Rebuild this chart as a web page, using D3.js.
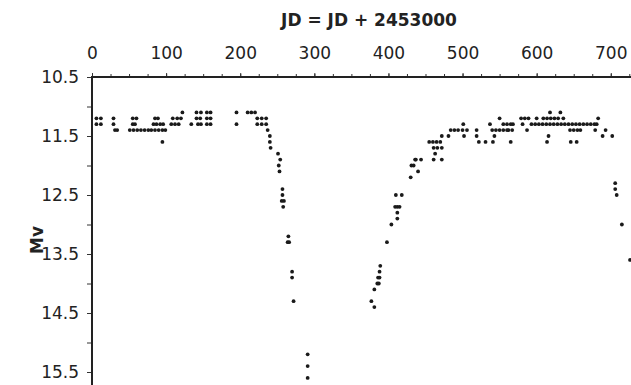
<!DOCTYPE html>
<html>
<head>
<meta charset="utf-8">
<script src="https://cdn.jsdelivr.net/npm/d3@7"></script>
<style>
  html, body { margin: 0; padding: 0; background: #fff; }
  svg { display: block; }
  text { font-family: "DejaVu Sans", Verdana, sans-serif; fill: #222; }
</style>
</head>
<body>
<svg id="chart" width="631" height="385"></svg>
<script>
// Light curve: Julian date offset (JD - 2453000) and visual magnitude
const jd = [
  6, 12, 6, 12, 29, 29, 31, 34,
  55, 60, 55, 58, 51, 56, 61, 66, 71, 76,
  85, 89, 83, 87, 92, 96, 80, 85, 90, 95, 99, 95,
  109, 115, 120, 107, 112, 117, 122,
  134, 141, 146, 141, 147, 143, 147,
  155, 160, 155, 160, 155, 160,
  195, 195, 210, 215, 220, 223, 229, 223, 229, 235, 235,
  237, 240, 240, 241, 251, 254, 252, 253,
  257, 257, 256, 259, 258, 265, 264, 266, 270, 270, 272,
  291, 291, 291,
  377, 381, 381, 385, 387, 386, 388, 388, 389, 398, 404,
  412, 412, 409, 412, 415, 410, 418, 430, 431, 434, 437, 440,
  436, 444, 461, 472, 463, 461, 466, 472, 455, 460, 465, 470,
  472, 481, 484, 489, 494, 500, 506, 501, 502,
  519, 519, 522, 531, 537, 540, 545, 550, 555, 560, 541, 543, 550,
  555, 560, 565, 568, 562, 567, 565,
  579, 584, 589, 581, 587,
  593, 598, 603, 608, 613, 618, 623, 628, 633, 638, 643, 648, 653, 658, 663, 668, 673, 678, 681,
  600, 609, 614, 619, 624, 629, 636, 618, 632, 616, 614,
  645, 650, 655, 659, 646, 654, 679, 693, 683, 689, 702,
  706, 706, 708, 715, 726
];
const mv = [
  11.2, 11.2, 11.3, 11.3, 11.2, 11.3, 11.4, 11.4,
  11.2, 11.2, 11.3, 11.3, 11.4, 11.4, 11.4, 11.4, 11.4, 11.4,
  11.2, 11.2, 11.3, 11.3, 11.3, 11.3, 11.4, 11.4, 11.4, 11.4, 11.4, 11.6,
  11.2, 11.2, 11.2, 11.3, 11.3, 11.3, 11.1,
  11.3, 11.2, 11.2, 11.1, 11.1, 11.3, 11.3,
  11.1, 11.1, 11.2, 11.2, 11.3, 11.3,
  11.1, 11.3, 11.1, 11.1, 11.1, 11.2, 11.2, 11.3, 11.3, 11.2, 11.3,
  11.4, 11.5, 11.6, 11.7, 11.8, 11.9, 12.0, 12.1,
  12.4, 12.5, 12.6, 12.6, 12.7, 13.2, 13.3, 13.3, 13.8, 13.9, 14.3,
  15.2, 15.4, 15.6,
  14.3, 14.4, 14.1, 14.0, 14.0, 13.9, 13.9, 13.8, 13.7, 13.3, 13.0,
  12.9, 12.8, 12.7, 12.7, 12.7, 12.5, 12.5, 12.2, 12.0, 12.0, 11.9, 12.1,
  11.9, 11.9, 11.9, 11.9, 11.8, 11.7, 11.7, 11.7, 11.6, 11.6, 11.6, 11.6,
  11.5, 11.5, 11.4, 11.4, 11.4, 11.4, 11.4, 11.3, 11.5,
  11.4, 11.5, 11.6, 11.6, 11.3, 11.4, 11.4, 11.4, 11.4, 11.4, 11.6, 11.5, 11.2,
  11.3, 11.3, 11.3, 11.3, 11.4, 11.4, 11.6,
  11.2, 11.2, 11.2, 11.3, 11.4,
  11.3, 11.3, 11.3, 11.3, 11.3, 11.3, 11.3, 11.3, 11.3, 11.3, 11.3, 11.3, 11.3, 11.3, 11.3, 11.3, 11.3, 11.3, 11.3,
  11.2, 11.2, 11.2, 11.2, 11.2, 11.2, 11.2, 11.1, 11.1, 11.5, 11.6,
  11.4, 11.4, 11.4, 11.4, 11.6, 11.6, 11.4, 11.4, 11.2, 11.5, 11.5,
  12.3, 12.4, 12.5, 13.0, 13.6
];
const xMajorTicks = [0, 100, 200, 300, 400, 500, 600, 700];
const xMinorTicks = d3.range(0, 730, 25);
const yTicks = [10.5, 11, 11.5, 12, 12.5, 13, 13.5, 14, 14.5, 15, 15.5];
const yLabelTicks = [10.5, 11.5, 12.5, 13.5, 14.5, 15.5];

const svg = d3.select("#chart");
const x = d3.scaleLinear().domain([0, 730]).range([92, 633]);
const y = d3.scaleLinear().domain([10.5, 15.75]).range([77, 386.75]);

// Minor ticks along the top axis
svg.append("g")
  .attr("transform", `translate(0,${y(10.5)})`)
  .call(d3.axisTop(x).tickValues(xMinorTicks).tickSize(3).tickFormat(""))
  .call(g => g.select(".domain").remove())
  .call(g => g.selectAll("line").attr("stroke", "#333"));

// Major ticks with labels
svg.append("g")
  .attr("transform", `translate(0,${y(10.5)})`)
  .call(d3.axisTop(x).tickValues(xMajorTicks).tickSize(4).tickPadding(14).tickFormat(d3.format("d")))
  .call(g => g.select(".domain").remove())
  .call(g => g.selectAll("line").attr("stroke", "#333"))
  .call(g => g.selectAll("text").attr("font-size", 17).attr("font-family", "DejaVu Sans").attr("fill", "#222"));

// Left axis
svg.append("g")
  .attr("transform", `translate(${x(0)},0)`)
  .call(d3.axisLeft(y).tickValues(yTicks).tickSize(5).tickPadding(8)
    .tickFormat(d => yLabelTicks.includes(d) ? d3.format(".1f")(d) : ""))
  .call(g => g.select(".domain").remove())
  .call(g => g.selectAll("line").attr("stroke", "#333"))
  .call(g => g.selectAll("text").attr("font-size", 17).attr("font-family", "DejaVu Sans").attr("fill", "#222"));

// Frame lines (top and left)
svg.append("line")
  .attr("x1", x(0)).attr("x2", 631)
  .attr("y1", y(10.5)).attr("y2", y(10.5))
  .attr("stroke", "#222").attr("stroke-width", 2);
svg.append("line")
  .attr("x1", x(0)).attr("x2", x(0))
  .attr("y1", y(10.5) - 1).attr("y2", 385)
  .attr("stroke", "#222").attr("stroke-width", 2);

// Observations
svg.append("g").selectAll("circle")
  .data(d3.range(jd.length))
  .join("circle")
  .attr("cx", i => x(jd[i]))
  .attr("cy", i => y(mv[i]))
  .attr("r", 1.9)
  .attr("fill", "#1a1a1a");

// Axis titles
svg.append("text")
  .attr("x", 369).attr("y", 26)
  .attr("text-anchor", "middle")
  .attr("font-size", 17).attr("font-weight", "bold")
  .text("JD = JD + 2453000");

svg.append("text")
  .attr("transform", "translate(43,240) rotate(-90)")
  .attr("text-anchor", "middle")
  .attr("font-size", 17).attr("font-weight", "bold")
  .text("Mv");
</script>
</body>
</html>
